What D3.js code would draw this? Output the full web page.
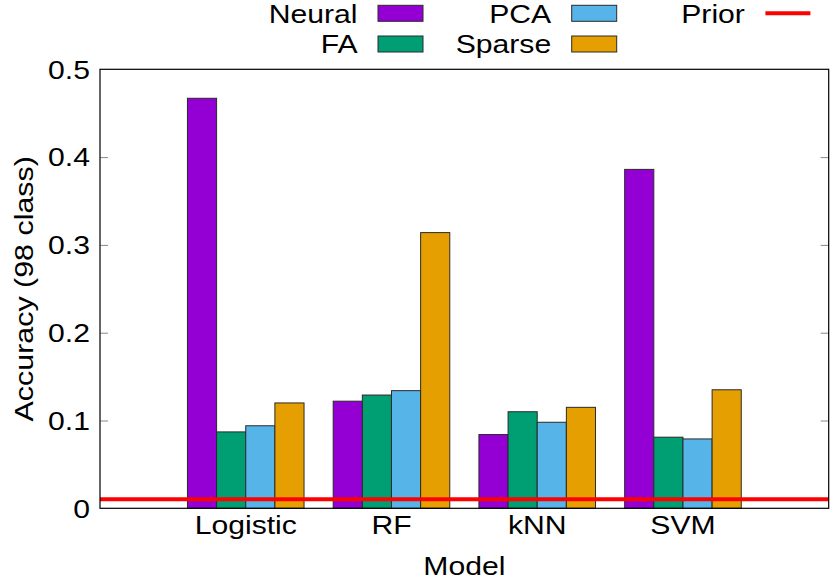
<!DOCTYPE html>
<html>
<head>
<meta charset="utf-8">
<script src="https://cdn.jsdelivr.net/npm/d3@7"></script>
<style>
  html, body { margin: 0; padding: 0; background: #fff; }
  svg { display: block; }
  text { font-family: "Liberation Sans", Arial, Helvetica, sans-serif; fill: #000; }
</style>
</head>
<body>
<svg id="chart" width="830" height="580"></svg>
<script>
// ---- data ----
const categories = ["Logistic", "RF", "kNN", "SVM"];
const seriesNames = ["Neural", "FA", "PCA", "Sparse"];
const seriesColors = ["#9400d3", "#009e73", "#56b4e9", "#e69f00"];
const neural = [0.467, 0.122, 0.084, 0.386];
const fa     = [0.087, 0.129, 0.110, 0.081];
const pca    = [0.094, 0.134, 0.098, 0.079];
const sparse = [0.120, 0.314, 0.115, 0.135];
const priorValue = 0.0102;
const yTicks = [0, 0.1, 0.2, 0.3, 0.4, 0.5];
const yLabel = "Accuracy (98 class)";
const xLabel = "Model";

const seriesValues = [neural, fa, pca, sparse];

// ---- layout ----
const pL = 100, pR = 828.7, pT = 69.3, pB = 508.3;
const fontSize = 26;
const stretch = 1.16;      // glyph stretch along text direction (reference font is wider)
const vStretch = 1.17;     // same, for the rotated label

const svg = d3.select("#chart");

const x = d3.scaleLinear().domain([-1, categories.length]).range([pL, pR]);
const inner = d3.scaleBand().domain(seriesNames).range([-0.4, 0.4]).padding(0);
const y = d3.scaleLinear().domain([0, 0.5]).range([pB, pT]);

function label(g, tx, ty, txt, anchor, dy) {
  return g.append("text")
    .attr("transform", `translate(${tx},${ty}) scale(${stretch},1)`)
    .attr("text-anchor", anchor)
    .attr("dy", dy || null)
    .attr("font-size", fontSize)
    .text(txt);
}

// bars
const rows = [];
categories.forEach((c, ci) => {
  seriesNames.forEach((s, si) => {
    rows.push({ ci, si, v: seriesValues[si][ci] });
  });
});
svg.append("g").selectAll("rect").data(rows).join("rect")
  .attr("x", d => x(d.ci + inner(seriesNames[d.si])))
  .attr("width", d => x(d.ci + inner(seriesNames[d.si]) + inner.bandwidth()) - x(d.ci + inner(seriesNames[d.si])))
  .attr("y", d => y(d.v))
  .attr("height", d => y(0) - y(d.v))
  .attr("fill", d => seriesColors[d.si])
  .attr("stroke", "#2a2a2a")
  .attr("stroke-width", 1);

// prior line
svg.append("line")
  .attr("x1", pL).attr("x2", pR)
  .attr("y1", y(priorValue)).attr("y2", y(priorValue))
  .attr("stroke", "#ff0000").attr("stroke-width", 4);

// y axis ticks (left + mirrored right)
const tickLen = 8;
const yAxisL = d3.axisLeft(y).tickValues(yTicks).tickSize(-tickLen).tickFormat("");
const gL = svg.append("g").attr("transform", `translate(${pL},0)`).call(yAxisL);
gL.select(".domain").remove();
gL.selectAll(".tick line").attr("stroke", "#888").attr("stroke-width", 1);
gL.selectAll(".tick").filter(d => d === 0 || d === 0.5).select("line").remove();

const yAxisR = d3.axisRight(y).tickValues(yTicks).tickSize(-tickLen).tickFormat("");
const gR = svg.append("g").attr("transform", `translate(${pR},0)`).call(yAxisR);
gR.select(".domain").remove();
gR.selectAll(".tick line").attr("stroke", "#888").attr("stroke-width", 1);
gR.selectAll(".tick").filter(d => d === 0 || d === 0.5).select("line").remove();

// y tick labels
const gyl = svg.append("g");
yTicks.forEach(t => label(gyl, 90, y(t), d3.format("~g")(t), "end", "0.36em"));

// x tick labels
const gxl = svg.append("g");
categories.forEach((c, i) => label(gxl, x(i), 534, c, "middle"));

// border
svg.append("rect")
  .attr("x", pL).attr("y", pT)
  .attr("width", pR - pL).attr("height", pB - pT)
  .attr("fill", "none").attr("stroke", "#000").attr("stroke-width", 1.2);

// axis titles
svg.append("text")
  .attr("transform", `translate(33,${(pT + pB) / 2}) rotate(-90) scale(${vStretch},1)`)
  .attr("text-anchor", "middle")
  .attr("font-size", fontSize)
  .text(yLabel);

label(svg, (pL + pR) / 2, 575, xLabel, "middle");

// legend
const legendItems = [
  { name: "Neural", type: "box", color: seriesColors[0], col: 0, row: 0 },
  { name: "FA", type: "box", color: seriesColors[1], col: 0, row: 1 },
  { name: "PCA", type: "box", color: seriesColors[2], col: 1, row: 0 },
  { name: "Sparse", type: "box", color: seriesColors[3], col: 1, row: 1 },
  { name: "Prior", type: "line", color: "#ff0000", col: 2, row: 0 }
];
const colStep = 193.7, rowStep = 30.7;
const lg = svg.append("g");
legendItems.forEach(it => {
  const sx = 378 + it.col * colStep;
  const cy = 13.3 + it.row * rowStep;
  label(lg, sx - 20.5, cy, it.name, "end", "0.36em");
  if (it.type === "box") {
    lg.append("rect")
      .attr("x", sx).attr("y", cy - 8)
      .attr("width", 45).attr("height", 16)
      .attr("fill", it.color).attr("stroke", "#2a2a2a").attr("stroke-width", 1);
  } else {
    lg.append("line")
      .attr("x1", sx).attr("x2", sx + 45)
      .attr("y1", cy).attr("y2", cy)
      .attr("stroke", it.color).attr("stroke-width", 4);
  }
});
</script>
</body>
</html>
